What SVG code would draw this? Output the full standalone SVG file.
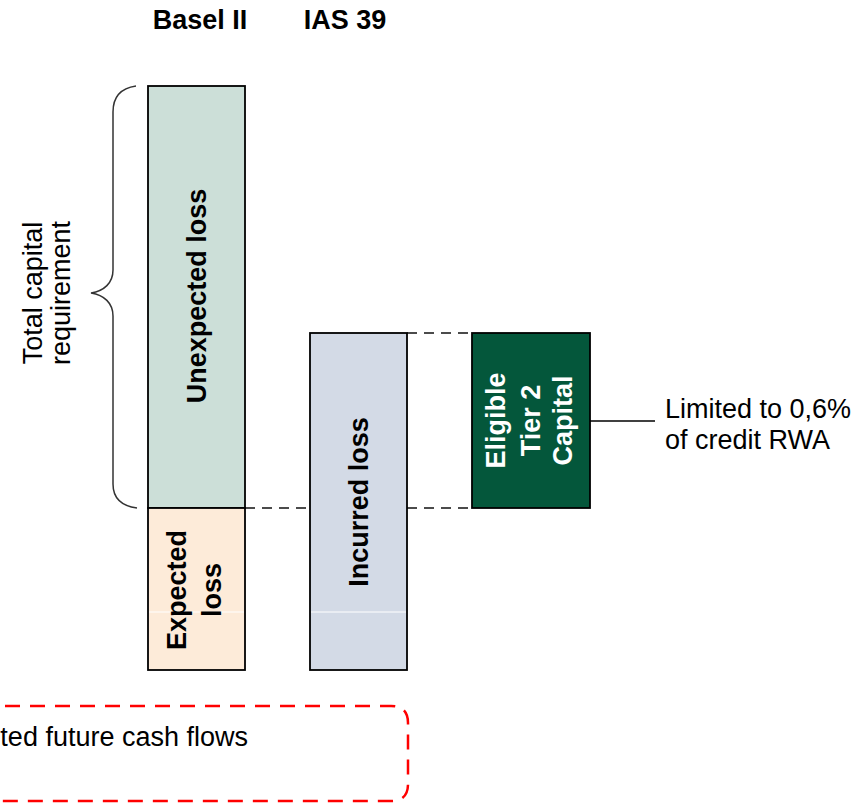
<svg xmlns="http://www.w3.org/2000/svg" width="866" height="803" viewBox="0 0 866 803">
<style>
text{font-family:"Liberation Sans",Arial,sans-serif;font-size:27px;fill:#000}
.b{font-weight:bold}
.bar{stroke:#000;stroke-width:1.8}
.dash{stroke:#111;stroke-width:1.6;stroke-dasharray:10 7;fill:none}
</style>
<rect width="866" height="803" fill="#fff"/>
<g id="headers">
<text class="b" x="200" y="29" text-anchor="middle">Basel II</text>
<text class="b" x="345" y="29" text-anchor="middle">IAS 39</text>
</g>
<g id="connectors">
<line class="dash" x1="245" y1="508" x2="310" y2="508"/>
<line class="dash" x1="407" y1="508" x2="472" y2="508"/>
<line class="dash" x1="407" y1="333" x2="472" y2="333"/>
<line x1="590" y1="421" x2="655" y2="421" stroke="#000" stroke-width="1.5"/>
</g>
<g id="brace">
<path d="M136,86 C122,88 113,96 113,112 L113,270 C113,283 104,291 91,293 C104,295 113,303 113,316 L113,484 C113,498 122,506 137,508" fill="none" stroke="#333" stroke-width="1.5"/>
<text transform="translate(0,293) rotate(-90)" text-anchor="middle"><tspan x="0" y="42">Total capital</tspan><tspan x="0" y="70">requirement</tspan></text>
</g>
<g id="unexpected-loss">
<rect class="bar" x="148" y="86" width="97" height="422" fill="#CCDFD8"/>
<text class="b" transform="translate(196.5,296) rotate(-90)" text-anchor="middle" x="0" y="9">Unexpected loss</text>
</g>
<g id="expected-loss">
<rect class="bar" x="148" y="508" width="97" height="162" fill="#FDEBD9"/>
<line x1="149" y1="612" x2="244" y2="612" stroke="#fff" stroke-width="1"/>
<text class="b" transform="translate(0,590) rotate(-90)" text-anchor="middle"><tspan x="0" y="186">Expected</tspan><tspan x="0" y="221">loss</tspan></text>
</g>
<g id="incurred-loss">
<rect class="bar" x="310" y="333" width="97" height="337" fill="#D3DAE6"/>
<line x1="311" y1="612" x2="406" y2="612" stroke="#fff" stroke-width="1"/>
<text class="b" transform="translate(358.5,502) rotate(-90)" text-anchor="middle" x="0" y="9.5">Incurred loss</text>
</g>
<g id="tier2">
<rect class="bar" x="472" y="333" width="118" height="175" fill="#04573B"/>
<text class="b" transform="translate(0,420.5) rotate(-90)" text-anchor="middle" style="fill:#fff"><tspan x="0" y="505">Eligible</tspan><tspan x="0" y="540">Tier 2</tspan><tspan x="0" y="572">Capital</tspan></text>
</g>
<g id="limit-note">
<text x="665" y="418">Limited to 0,6%</text>
<text x="665" y="449">of credit RWA</text>
</g>
<g id="cashflow-box">
<path d="M-20,706 L391,706 Q408,706 408,723 L408,784 Q408,801 391,801 L-20,801" fill="none" stroke="#FF0000" stroke-width="2.5" stroke-dasharray="15 10"/>
<text x="248" y="746" text-anchor="end">ted future cash flows</text>
</g>
</svg>
